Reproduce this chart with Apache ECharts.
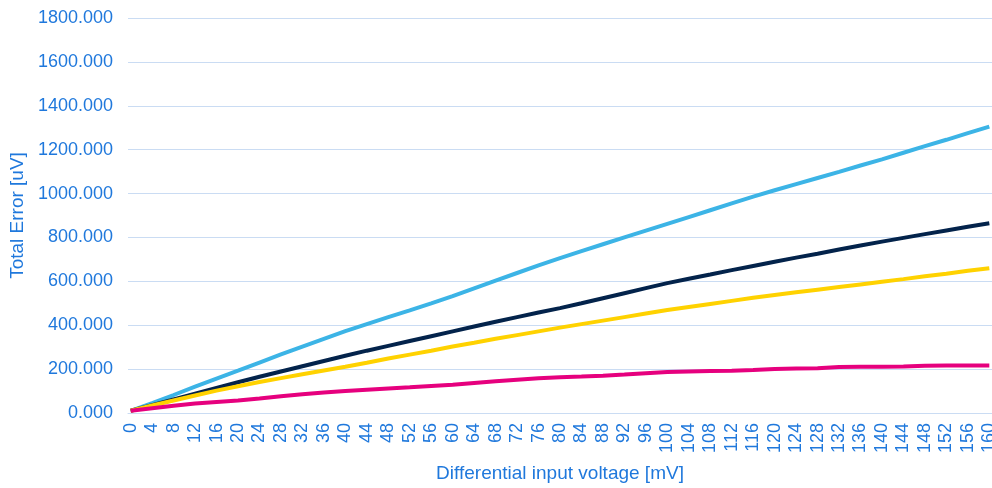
<!DOCTYPE html>
<html>
<head>
<meta charset="utf-8">
<script src="https://cdn.jsdelivr.net/npm/echarts@6/dist/echarts.min.js"></script>
<style>
	html, body { margin:0; padding:0; background:#fff; }
	#errorChart { width:992px; height:488px; }
</style>
</head>
<body>
<div id="errorChart"></div>
<script>
	var xRead = [0,4,8,12,16,20,24,28,32,36,40,44,48,52,56,60,64,68,72,76,80,
		84,88,92,96,100,104,108,112,116,120,124,128,132,136,140,144,148,152,156,160];

	var lightBlue = [10,45,82,120,157,193,230,267,303,338,373,405,437,468,500,533,568,603,638,673,706,
		738,769,800,831,862,893,924,955,986,1015,1043,1071,1099,1128,1156,1186,1216,1245,1275,1305];
	var darkBlue = [10,36,62,88,114,140,165,189,213,237,261,284,306,328,350,372,394,416,437,458,478,
		500,523,546,569,592,612,631,651,670,689,708,726,745,763,781,798,815,832,849,865];
	var yellow = [10,34,57,80,102,122,141,159,177,194,211,229,248,266,284,303,320,338,355,372,389,
		405,421,437,453,469,483,497,511,525,538,550,562,574,586,598,610,623,635,648,660];
	var magenta = [10,22,33,43,50,57,66,76,85,93,100,106,112,117,123,129,137,145,152,158,163,
		166,170,175,181,187,189,191,193,196,200,203,204,210,211,211,212,215,216,216,216];

	// category axis 0..160 mV, one per mV
	var mvCats = [];
	for (var i = 0; i <= 160; i++) mvCats.push(String(i));

	var yTicks = { min:0, max:1800, interval:200 };

	function pairs(vals){
		var out = [];
		for (var k = 0; k < xRead.length; k++) out.push([String(xRead[k]), vals[k]]);
		return out;
	}

	var textBlue = '#1f78dc';
	var gridColor = '#cadcf3';

	function line(name, color, vals){
		return {
			name : name,
			type : 'line',
			symbol : 'none',
			smooth : false,
			data : pairs(vals),
			lineStyle : { color : color, width : 4 },
			itemStyle : { color : color }
		};
	}

	var myChart = echarts.init(document.getElementById('errorChart'));
	var option = {
		animation : false,
		grid : { left:128, right:0, top:18, bottom:75, outerBoundsMode:'none', containLabel:false },
		xAxis : {
			type : 'category',
			data : mvCats,
			boundaryGap : true,
			name : 'Differential input voltage [mV]',
			nameLocation : 'middle',
			nameGap : 51,
			nameTextStyle : { color:textBlue, fontSize:19, fontFamily:'Liberation Sans', verticalAlign:'top' },
			axisLine : { lineStyle : { color:gridColor, width:1 } },
			axisTick : { show:false },
			axisLabel : {
				interval : 3,
				rotate : 90,
				color : textBlue,
				fontSize : 18,
				fontFamily : 'Liberation Sans',
				margin : 10
			}
		},
		yAxis : {
			type : 'value',
			min : yTicks.min,
			max : yTicks.max,
			interval : yTicks.interval,
			name : 'Total Error [uV]',
			nameLocation : 'middle',
			nameGap : 92,
			nameRotate : 90,
			nameTextStyle : { color:textBlue, fontSize:19, fontFamily:'Liberation Sans' },
			axisLine : { show:false },
			axisTick : { show:false },
			splitLine : { lineStyle : { color:gridColor, width:1 } },
			axisLabel : {
				color : textBlue,
				fontSize : 18,
				fontFamily : 'Liberation Sans',
				margin : 15,
				formatter : function(v){ return v.toFixed(3); }
			}
		},
		series : [
			line('Series 1', '#3cb4e6', lightBlue),
			line('Series 2', '#03234b', darkBlue),
			line('Series 3', '#ffd200', yellow),
			line('Series 4', '#e6007e', magenta)
		]
	};
	myChart.setOption(option);
</script>
</body>
</html>
